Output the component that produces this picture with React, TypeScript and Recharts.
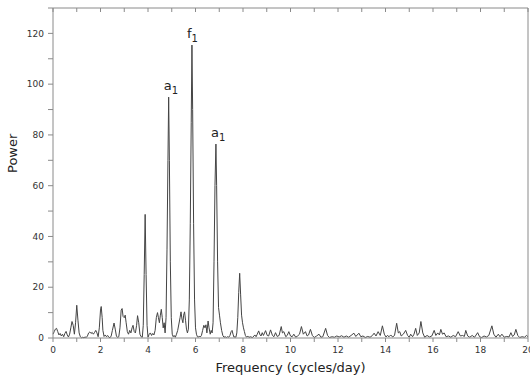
import React from "react";
import { LineChart, Line, XAxis, YAxis, ReferenceDot } from "recharts";

// [frequency (cycles/day), power]
const lowBand: [number, number][] = [
  [0.0, 1.5], [0.05, 2.5], [0.1, 3.5], [0.15, 3.8], [0.2, 2.5], [0.25, 1.2], [0.3, 1.8], [0.35, 0.8],
  [0.4, 1.5], [0.45, 0.5], [0.5, 1.8], [0.55, 2.6], [0.6, 1.2], [0.65, 0.4], [0.7, 1.5], [0.75, 4.0],
  [0.8, 6.5], [0.85, 5.0], [0.9, 1.5], [0.95, 6.0], [1.0, 12.9], [1.05, 7.0], [1.1, 2.0], [1.15, 0.5],
  [1.2, 0.1], [1.25, 0.3], [1.3, 0.1], [1.35, 0.4], [1.4, 0.2], [1.45, 0.8], [1.5, 2.0], [1.55, 2.4],
  [1.6, 1.8], [1.65, 2.2], [1.7, 1.5], [1.75, 2.2], [1.8, 3.0], [1.85, 2.0], [1.9, 0.5], [1.95, 4.0],
  [2.0, 11.0], [2.03, 12.4], [2.07, 8.0], [2.1, 3.0], [2.15, 0.6], [2.2, 1.2], [2.25, 0.5], [2.3, 1.0],
  [2.35, 0.3], [2.4, 0.1], [2.45, 0.8], [2.5, 3.0], [2.57, 5.9], [2.62, 3.5], [2.67, 0.8], [2.72, 0.2],
  [2.77, 0.5], [2.82, 4.0], [2.87, 11.0], [2.91, 11.6], [2.95, 8.5], [3.0, 8.0], [3.04, 9.0], [3.08, 6.0],
  [3.13, 2.5], [3.18, 1.5], [3.23, 3.0], [3.28, 2.0], [3.33, 4.0], [3.37, 5.0], [3.42, 2.5], [3.47, 2.0],
  [3.52, 5.0], [3.56, 8.8], [3.61, 6.0], [3.66, 1.5], [3.71, 0.5], [3.76, 0.3],
];

const mainBand: [number, number][] = [
  [3.8, 5], [3.84, 25], [3.88, 48.7], [3.92, 25], [3.96, 5], [4.0, 0.3], [4.05, 1.5], [4.1, 2.0],
  [4.15, 1.0], [4.2, 1.8], [4.25, 1.2], [4.3, 3.0], [4.35, 8.0], [4.4, 10.0], [4.44, 8.0], [4.48, 6.0],
  [4.52, 9.0], [4.56, 11.3], [4.6, 8.0], [4.64, 4.0], [4.68, 6.0], [4.72, 2.0], [4.76, 8.0], [4.8, 35],
  [4.84, 70], [4.87, 94.9], [4.9, 70], [4.94, 30], [4.98, 8], [5.02, 1.5], [5.06, 0.5], [5.1, 1.0],
  [5.15, 0.3], [5.2, 1.5], [5.25, 3.0], [5.3, 5.5], [5.35, 8.0], [5.39, 10.3], [5.43, 7.5], [5.47, 6.0],
  [5.5, 9.0], [5.54, 10.3], [5.58, 7.0], [5.62, 3.5], [5.66, 2.0], [5.7, 3.5], [5.74, 15], [5.78, 45],
  [5.82, 85], [5.85, 115.4], [5.88, 90], [5.92, 45], [5.96, 15], [6.0, 4], [6.04, 1.5], [6.08, 0.5],
  [6.12, 0.3], [6.16, 0.8], [6.2, 0.4], [6.25, 1.0], [6.3, 3.0], [6.35, 5.0], [6.4, 4.0], [6.44, 5.2],
  [6.48, 2.0], [6.53, 6.7], [6.57, 4.0], [6.62, 1.5], [6.66, 3.0], [6.7, 2.0], [6.74, 6.0], [6.78, 30],
  [6.82, 60], [6.86, 76.4], [6.89, 60], [6.93, 30], [6.97, 12], [7.01, 9], [7.05, 6], [7.1, 3],
  [7.15, 1.0], [7.2, 0.3], [7.25, 0.5], [7.3, 0.2], [7.35, 0.5], [7.4, 0.3], [7.45, 1.0], [7.5, 2.5],
  [7.54, 3.0], [7.58, 1.5], [7.62, 0.3], [7.66, 0.5], [7.7, 0.3], [7.74, 2.0], [7.78, 8.0], [7.82, 18],
  [7.86, 25.5], [7.9, 17], [7.94, 9], [7.98, 6], [8.02, 4], [8.06, 2.5], [8.1, 1.0], [8.15, 0.3],
  [8.2, 0.8], [8.25, 0.2],
];

const highBand: [number, number][] = [
  [8.3, 0.5], [8.4, 0.2], [8.5, 1.2], [8.55, 0.5], [8.6, 1.5], [8.66, 2.8], [8.72, 1.2], [8.76, 0.8],
  [8.81, 2.1], [8.86, 1.0], [8.95, 2.9], [9.02, 1.0], [9.08, 0.8], [9.16, 3.2], [9.24, 1.0], [9.3, 0.5],
  [9.37, 2.1], [9.44, 0.6], [9.52, 1.0], [9.61, 4.5], [9.66, 2.0], [9.72, 2.5], [9.8, 0.5], [9.86, 1.0],
  [9.93, 2.5], [10.0, 0.8], [10.07, 0.5], [10.14, 1.5], [10.22, 0.3], [10.3, 0.8], [10.38, 1.5], [10.46, 4.5],
  [10.54, 1.5], [10.63, 2.5], [10.7, 0.8], [10.76, 1.2], [10.84, 3.4], [10.92, 1.0], [11.0, 0.2], [11.1, 0.8],
  [11.2, 1.5], [11.28, 0.3], [11.36, 0.5], [11.48, 3.8], [11.56, 1.0], [11.64, 0.2], [11.75, 0.5], [11.85, 0.3],
  [11.95, 0.8], [12.05, 0.4], [12.15, 0.9], [12.25, 0.3], [12.35, 0.8], [12.45, 0.3], [12.55, 1.0], [12.67, 1.9],
  [12.75, 0.6], [12.88, 1.9], [12.96, 0.5], [13.05, 0.8], [13.15, 0.2], [13.25, 0.6], [13.35, 0.3], [13.45, 1.0],
  [13.52, 1.9], [13.6, 0.8], [13.69, 2.5], [13.78, 1.0], [13.87, 4.8], [13.95, 1.5], [14.02, 0.4], [14.08, 1.0],
  [14.15, 0.5], [14.22, 1.2], [14.3, 0.4], [14.38, 1.0], [14.47, 5.8], [14.54, 2.0], [14.6, 2.5], [14.66, 0.8],
  [14.75, 1.5], [14.85, 3.0], [14.93, 1.0], [15.0, 0.3], [15.06, 1.5], [15.14, 0.5], [15.2, 1.5], [15.27, 3.8],
  [15.34, 1.0], [15.42, 2.0], [15.49, 6.5], [15.57, 2.0], [15.65, 0.3], [15.75, 1.0], [15.85, 0.4], [15.95, 0.8],
  [16.05, 3.0], [16.12, 1.0], [16.2, 2.0], [16.27, 1.2], [16.33, 3.4], [16.4, 1.5], [16.47, 2.0], [16.55, 0.5],
  [16.65, 0.8], [16.75, 0.3], [16.85, 1.0], [16.95, 0.5], [17.06, 2.5], [17.15, 0.8], [17.25, 1.0], [17.32, 0.6],
  [17.38, 3.0], [17.46, 0.8], [17.55, 0.3], [17.65, 1.0], [17.75, 0.3], [17.88, 2.1], [17.96, 0.5], [18.05, 0.2],
  [18.15, 0.8], [18.25, 0.4], [18.35, 1.0], [18.48, 4.8], [18.56, 1.5], [18.65, 0.3], [18.75, 1.5], [18.82, 0.5],
  [18.9, 1.5], [19.0, 0.3], [19.1, 0.6], [19.2, 0.4], [19.28, 2.1], [19.35, 0.6], [19.42, 1.2], [19.49, 3.4],
  [19.57, 1.0], [19.65, 0.2], [19.75, 0.5], [19.85, 0.3], [19.94, 1.0], [20.0, 0.5],
];

// labelled peaks: [frequency, power, letter]
const peaks: [number, number, string][] = [
  [4.87, 94.9, "a"],
  [5.85, 115.4, "f"],
  [6.86, 76.4, "a"],
];

const xTicks = [0, 1, 2, 3, 4, 5, 6, 7, 8, 9, 10, 11, 12, 13, 14, 15, 16, 17, 18, 19, 20];
const yTicks = [0, 10, 20, 30, 40, 50, 60, 70, 80, 90, 100, 110, 120, 130];

const spectrum = [...lowBand, ...mainBand, ...highBand].map(([f, p]) => ({ f, p }));

const font = "DejaVu Sans";
const axisGray = "#8a8a8a";

const PeakTag = (props: any) => {
  const { cx, cy, letter } = props;
  return (
    <text x={cx - 5} y={cy - 7} fontSize={13} fill="#222" fontFamily={font}>
      {letter}
      <tspan dy={4} fontSize={10}>1</tspan>
    </text>
  );
};

export default function App() {
  return (
    <div style={{ position: "absolute", left: 0, top: 0, width: 530, height: 377, background: "#fff" }}>
      <LineChart width={530} height={377} data={spectrum} margin={{ top: 8, right: 2, left: 0, bottom: 0 }}>
        <XAxis
          xAxisId="bottom"
          dataKey="f"
          type="number"
          domain={[0, 20]}
          ticks={xTicks}
          interval={0}
          height={39}
          tickSize={4}
          tickMargin={5}
          tickFormatter={(v: number) => (v % 2 === 0 ? String(v) : "")}
          tick={{ fontSize: 9, fill: "#333", fontFamily: font }}
          axisLine={{ stroke: axisGray }}
          tickLine={{ stroke: axisGray }}
          label={{ value: "Frequency (cycles/day)", position: "insideBottom", offset: 5, fontSize: 13, fill: "#222", fontFamily: font }}
        />
        <XAxis
          xAxisId="top"
          orientation="top"
          dataKey="f"
          type="number"
          domain={[0, 20]}
          ticks={xTicks}
          interval={0}
          height={1}
          mirror
          tickSize={4}
          tickFormatter={() => ""}
          axisLine={{ stroke: axisGray }}
          tickLine={{ stroke: axisGray }}
        />
        <YAxis
          yAxisId="left"
          type="number"
          domain={[0, 130]}
          ticks={yTicks}
          interval={0}
          width={53}
          tickSize={5}
          tickMargin={4}
          tickFormatter={(v: number) => (v % 20 === 0 ? String(v) : "")}
          tick={{ fontSize: 9, fill: "#333", fontFamily: font }}
          axisLine={{ stroke: axisGray }}
          tickLine={{ stroke: axisGray }}
          label={{ value: "Power", angle: -90, position: "insideLeft", offset: 12, fontSize: 13, fill: "#222", fontFamily: font }}
        />
        <YAxis
          yAxisId="right"
          orientation="right"
          type="number"
          domain={[0, 130]}
          ticks={yTicks}
          interval={0}
          width={1}
          mirror
          tickSize={4}
          tickFormatter={() => ""}
          axisLine={{ stroke: axisGray }}
          tickLine={{ stroke: axisGray }}
        />
        <Line
          xAxisId="bottom"
          yAxisId="left"
          type="linear"
          dataKey="p"
          stroke="#444"
          strokeWidth={1}
          dot={false}
          isAnimationActive={false}
        />
        {peaks.map(([f, p, letter], i) => (
          <ReferenceDot
            key={i}
            xAxisId="bottom"
            yAxisId="left"
            x={f}
            y={p}
            r={0}
            ifOverflow="visible"
            shape={(props: any) => <PeakTag {...props} letter={letter} />}
          />
        ))}
      </LineChart>
    </div>
  );
}
